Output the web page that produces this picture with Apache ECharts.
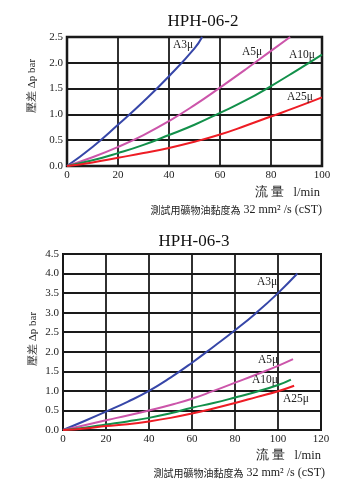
<!DOCTYPE html>
<html><head><meta charset="utf-8">
<script src="https://cdn.jsdelivr.net/npm/echarts@6/dist/echarts.min.js"></script>
<style>html,body{margin:0;padding:0;background:#fff}#c{width:354px;height:494px}</style>
</head><body><div id="c"></div>
<script>
// ---- Chart 1: HPH-06-2 ----
const title1 = 'HPH-06-2';
const xTicks1 = [0, 20, 40, 60, 80, 100];
const yTicks1 = [0, 0.5, 1.0, 1.5, 2.0, 2.5];
const c1_A3 = [[0,0],[10,0.37],[20,0.8],[30,1.25],[40,1.74],[50,2.28],[53,2.5]];
const c1_A5 = [[0,0],[10,0.17],[20,0.37],[30,0.6],[40,0.87],[50,1.18],[60,1.52],[70,1.87],[80,2.23],[87.5,2.5]];
const c1_A10 = [[0,0],[10,0.11],[20,0.25],[30,0.41],[40,0.6],[50,0.8],[60,1.03],[70,1.27],[80,1.55],[90,1.85],[100,2.16]];
const c1_A25 = [[0,0],[10,0.07],[20,0.16],[30,0.25],[40,0.35],[50,0.47],[60,0.61],[70,0.78],[80,0.96],[90,1.14],[100,1.33]];

// ---- Chart 2: HPH-06-3 ----
const title2 = 'HPH-06-3';
const xTicks2 = [0, 20, 40, 60, 80, 100, 120];
const yTicks2 = [0, 0.5, 1.0, 1.5, 2.0, 2.5, 3.0, 3.5, 4.0, 4.5];
const c2_A3 = [[0,0],[10,0.23],[20,0.47],[30,0.72],[40,1.0],[50,1.34],[60,1.72],[70,2.13],[80,2.55],[90,3.0],[100,3.5],[109,4.0]];
const c2_A5 = [[0,0],[10,0.12],[20,0.25],[30,0.37],[40,0.5],[50,0.64],[60,0.8],[70,1.0],[80,1.21],[90,1.42],[100,1.64],[107,1.81]];
const c2_A10 = [[0,0],[10,0.06],[20,0.14],[30,0.22],[40,0.31],[50,0.43],[60,0.57],[70,0.69],[80,0.83],[90,0.98],[100,1.15],[106,1.29]];
const c2_A25 = [[0,0],[10,0.04],[20,0.1],[30,0.15],[40,0.22],[50,0.31],[60,0.42],[70,0.55],[80,0.69],[90,0.84],[100,0.99],[107.5,1.13]];

const seriesNames = ['A3μ', 'A5μ', 'A10μ', 'A25μ'];
const colors = ['#3646a8', '#cc55aa', '#12904a', '#ee1c24'];
const yName = '壓差 Δp bar';
const xName = '流 量   l/min';
const noteCN = '測試用礦物油黏度為';
const noteEN = ' 32 mm² /s (cST)';

const SERIF = '"Liberation Serif","Times New Roman",serif';
const CJK = '"Noto Sans CJK TC","Noto Sans CJK SC",sans-serif';

const chart = echarts.init(document.getElementById('c'), null, {renderer: 'canvas'});

function xAxis(idx, ticks) {
  return {
    type: 'value', gridIndex: idx, min: ticks[0], max: ticks[ticks.length-1], interval: 20,
    axisLine: {show: false}, axisTick: {show: false},
    splitLine: {show: true, lineStyle: {color: '#1a1a1a', width: 1.8}},
    axisLabel: {fontFamily: SERIF, fontSize: 11, color: '#222', margin: 4,
      formatter: v => String(v)}
  };
}
function yAxis(idx, ticks) {
  return {
    type: 'value', gridIndex: idx, min: ticks[0], max: ticks[ticks.length-1], interval: 0.5,
    axisLine: {show: false}, axisTick: {show: false},
    splitLine: {show: true, lineStyle: {color: '#1a1a1a', width: 1.8}},
    axisLabel: {fontFamily: SERIF, fontSize: 11, color: '#222', margin: 4,
      formatter: v => v.toFixed(1)}
  };
}
function line(name, data, color, idx) {
  return {type: 'line', name, data, xAxisIndex: idx, yAxisIndex: idx, smooth: 0.5,
    showSymbol: false, symbol: 'none', lineStyle: {color, width: 2}, z: 5, silent: true};
}
function lbl(text, x, y) {
  return {type: 'text', x, y, z: 10, style: {text, fontFamily: SERIF, fontSize: 11.5,
    fill: '#222', align: 'center', verticalAlign: 'middle'}};
}

const option = {
  animation: false,
  backgroundColor: '#fff',
  title: [
    {text: title1, left: 198, top: 8, textAlign: 'center',
      textStyle: {fontFamily: SERIF, fontSize: 17, fontWeight: 'normal', color: '#111'}},
    {text: title2, left: 189, top: 228, textAlign: 'center',
      textStyle: {fontFamily: SERIF, fontSize: 17, fontWeight: 'normal', color: '#111'}}
  ],
  grid: [
    {left: 67, right: 32, top: 37, bottom: 328, show: true, borderColor: '#111', borderWidth: 2.5, backgroundColor: 'transparent'},
    {left: 63, right: 33, top: 254, bottom: 64, show: true, borderColor: '#111', borderWidth: 2, backgroundColor: 'transparent'}
  ],
  xAxis: [xAxis(0, xTicks1), xAxis(1, xTicks2)],
  yAxis: [yAxis(0, yTicks1), yAxis(1, yTicks2)],
  series: [
    line(seriesNames[0], c1_A3, colors[0], 0),
    line(seriesNames[1], c1_A5, colors[1], 0),
    line(seriesNames[2], c1_A10, colors[2], 0),
    line(seriesNames[3], c1_A25, colors[3], 0),
    line(seriesNames[0], c2_A3, colors[0], 1),
    line(seriesNames[1], c2_A5, colors[1], 1),
    line(seriesNames[2], c2_A10, colors[2], 1),
    line(seriesNames[3], c2_A25, colors[3], 1)
  ],
  graphic: [
    lbl(seriesNames[0], 183, 45),
    lbl(seriesNames[1], 252, 52),
    lbl(seriesNames[2], 302, 55),
    lbl(seriesNames[3], 300, 97),
    lbl(seriesNames[0], 267, 282),
    lbl(seriesNames[1], 268, 360),
    lbl(seriesNames[2], 265, 380),
    lbl(seriesNames[3], 296, 399),
    {type: 'text', x: 32, y: 86, rotation: Math.PI/2, z: 10,
      style: {text: yName, fontFamily: SERIF, fontSize: 11, fill: '#222', align: 'center', verticalAlign: 'middle'}},
    {type: 'text', x: 33, y: 339, rotation: Math.PI/2, z: 10,
      style: {text: yName, fontFamily: SERIF, fontSize: 11, fill: '#222', align: 'center', verticalAlign: 'middle'}},
    {type: 'text', x: 320, y: 193, z: 10,
      style: {text: xName, fontFamily: SERIF, fontSize: 12.5, fill: '#222', align: 'right', verticalAlign: 'middle'}},
    {type: 'text', x: 321, y: 456, z: 10,
      style: {text: xName, fontFamily: SERIF, fontSize: 12.5, fill: '#222', align: 'right', verticalAlign: 'middle'}},
    {type: 'text', x: 322, y: 210, z: 10,
      style: {text: '{cn|' + noteCN + '}{en|' + noteEN + '}', align: 'right', verticalAlign: 'middle', fill: '#222',
        rich: {cn: {fontFamily: CJK, fontSize: 10, fill: '#222'}, en: {fontFamily: SERIF, fontSize: 12, fill: '#222'}}}},
    {type: 'text', x: 325, y: 473, z: 10,
      style: {text: '{cn|' + noteCN + '}{en|' + noteEN + '}', align: 'right', verticalAlign: 'middle', fill: '#222',
        rich: {cn: {fontFamily: CJK, fontSize: 10, fill: '#222'}, en: {fontFamily: SERIF, fontSize: 12, fill: '#222'}}}}
  ]
};
chart.setOption(option);
</script>
</body></html>
